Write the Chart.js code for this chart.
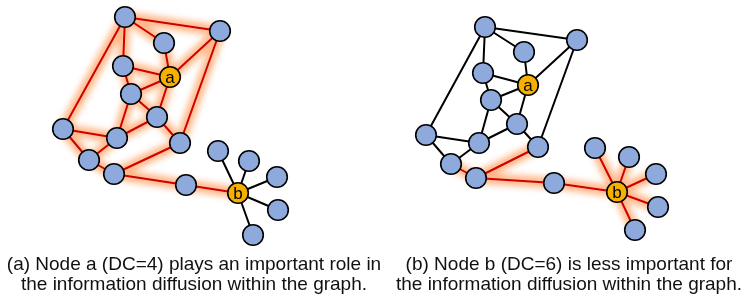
<!DOCTYPE html>
<html>
<head>
<meta charset="utf-8">
<script src="https://cdn.jsdelivr.net/npm/chart.js@4.4.1/dist/chart.umd.min.js"></script>
<style>
	body { margin: 0; background: #fff; }
	#wrap { position: relative; width: 749px; height: 294px; }
	.cap { position: absolute; font-family: 'Liberation Sans', Arial, sans-serif; font-size: 19px; line-height: 20px; text-align: center; color: #111; white-space: nowrap; transform: translateX(-50%); }
</style>
</head>
<body>
<div id="wrap">
	<canvas id="myChart" width="749" height="294"></canvas>
	<div class="cap" id="capA" style="left:194px; top:254px;"></div>
	<div class="cap" id="capB" style="left:569px; top:254px;"></div>
</div>
<script>
// node labels (only the two highlighted nodes carry a name)
const nodeLabels = ['', '', '', '', 'a', '', '', '', '', '', '', '', '', 'b', '', '', '', '', ''];

// node positions, panel (a) and panel (b)
const leftX = [125, 220, 164, 123, 170, 131, 157, 63, 117, 180, 89, 114, 186, 238, 218, 249, 277, 278, 253];
const leftY = [17, 31, 43, 66, 77, 94, 117, 129, 138, 143, 160, 174, 185, 193, 151, 161, 177, 210, 235];
const rightX = [485, 577, 524, 483, 528, 491, 517, 426, 479, 538, 451, 476, 554, 617, 595, 629, 656, 658, 635];
const rightY = [27, 40, 52, 73, 85, 100, 124, 135, 143, 147, 164, 178, 183, 192, 148, 157, 174, 207, 230];

const edges = [
	[0, 1], [0, 2], [0, 3], [0, 7], [2, 4], [3, 4], [3, 5], [1, 4], [4, 5], [4, 6],
	[1, 9], [5, 6], [5, 8], [6, 8], [6, 9], [7, 8], [7, 10], [8, 10], [9, 11], [10, 11],
	[11, 12], [12, 13], [13, 14], [13, 15], [13, 16], [13, 17], [13, 18],
];

// edges on the diffusion paths (drawn red with glow)
const redLeft = [0, 1, 2, 3, 4, 5, 6, 7, 8, 9, 10, 11, 12, 13, 14, 15, 16, 17, 18, 19, 20, 21];
const redRight = [18, 19, 20, 21, 22, 23, 24, 25, 26];

const captionA = ['(a) Node a (DC=4) plays an important role in', 'the information diffusion within the graph.'];
const captionB = ['(b) Node b (DC=6) is less important for', 'the information diffusion within the graph.'];

document.getElementById('capA').innerHTML = captionA.join('<br>');
document.getElementById('capB').innerHTML = captionB.join('<br>');

function edgePoints(xs, ys, list) {
	let pts = [];
	list.forEach((i) => {
		let [a, b] = edges[i];
		pts.push({ x: xs[a], y: ys[a] });
		pts.push({ x: xs[b], y: ys[b] });
		pts.push({ x: null, y: null });
	});
	return pts;
}

function panelDatasets(xs, ys, red) {
	let black = edges.map((e, i) => i).filter((i) => !red.includes(i));
	return [
		{
			data: xs.map((x, i) => ({ x: x, y: ys[i] })),
			pointRadius: 10.3,
			pointBackgroundColor: nodeLabels.map((l) => (l ? '#f5b000' : '#8eaadc')),
			pointBorderColor: '#000',
			pointBorderWidth: 1.6,
			labels: nodeLabels,
			order: 0,
		},
		{
			data: edgePoints(xs, ys, red),
			showLine: true,
			borderColor: '#d00000',
			borderWidth: 2,
			pointRadius: 0,
			order: 1,
		},
		{
			data: edgePoints(xs, ys, black),
			showLine: true,
			borderColor: '#000',
			borderWidth: 2,
			pointRadius: 0,
			order: 1,
		},
		{
			data: edgePoints(xs, ys, red),
			showLine: true,
			borderColor: 'rgba(255, 125, 40, 0.55)',
			borderWidth: 11,
			pointRadius: 0,
			glow: true,
			order: 2,
		},
	];
}

const glowPlugin = {
	id: 'glow',
	beforeDatasetDraw(chart, args) {
		if (chart.data.datasets[args.index].glow) {
			chart.ctx.save();
			chart.ctx.filter = 'blur(3px)';
		}
	},
	afterDatasetDraw(chart, args) {
		if (chart.data.datasets[args.index].glow) chart.ctx.restore();
	},
};

const nodeLabelPlugin = {
	id: 'nodeLabels',
	afterDatasetsDraw(chart) {
		let ctx = chart.ctx;
		ctx.save();
		ctx.font = '17px "Liberation Sans", Arial, sans-serif';
		ctx.fillStyle = '#000';
		ctx.textAlign = 'center';
		ctx.textBaseline = 'middle';
		chart.data.datasets.forEach((ds, i) => {
			if (!ds.labels) return;
			chart.getDatasetMeta(i).data.forEach((pt, j) => {
				if (ds.labels[j]) ctx.fillText(ds.labels[j], pt.x, pt.y + 1);
			});
		});
		ctx.restore();
	},
};

const chart = new Chart(document.getElementById('myChart'), {
	type: 'scatter',
	data: {
		datasets: [...panelDatasets(leftX, leftY, redLeft), ...panelDatasets(rightX, rightY, redRight)],
	},
	options: {
		responsive: false,
		animation: false,
		events: [],
		layout: { padding: 0, autoPadding: false },
		scales: {
			x: { type: 'linear', min: 0, max: 749, display: false },
			y: { type: 'linear', min: 0, max: 294, reverse: true, display: false },
		},
		plugins: {
			legend: { display: false },
			tooltip: { enabled: false },
		},
	},
	plugins: [glowPlugin, nodeLabelPlugin],
});
</script>
</body>
</html>
